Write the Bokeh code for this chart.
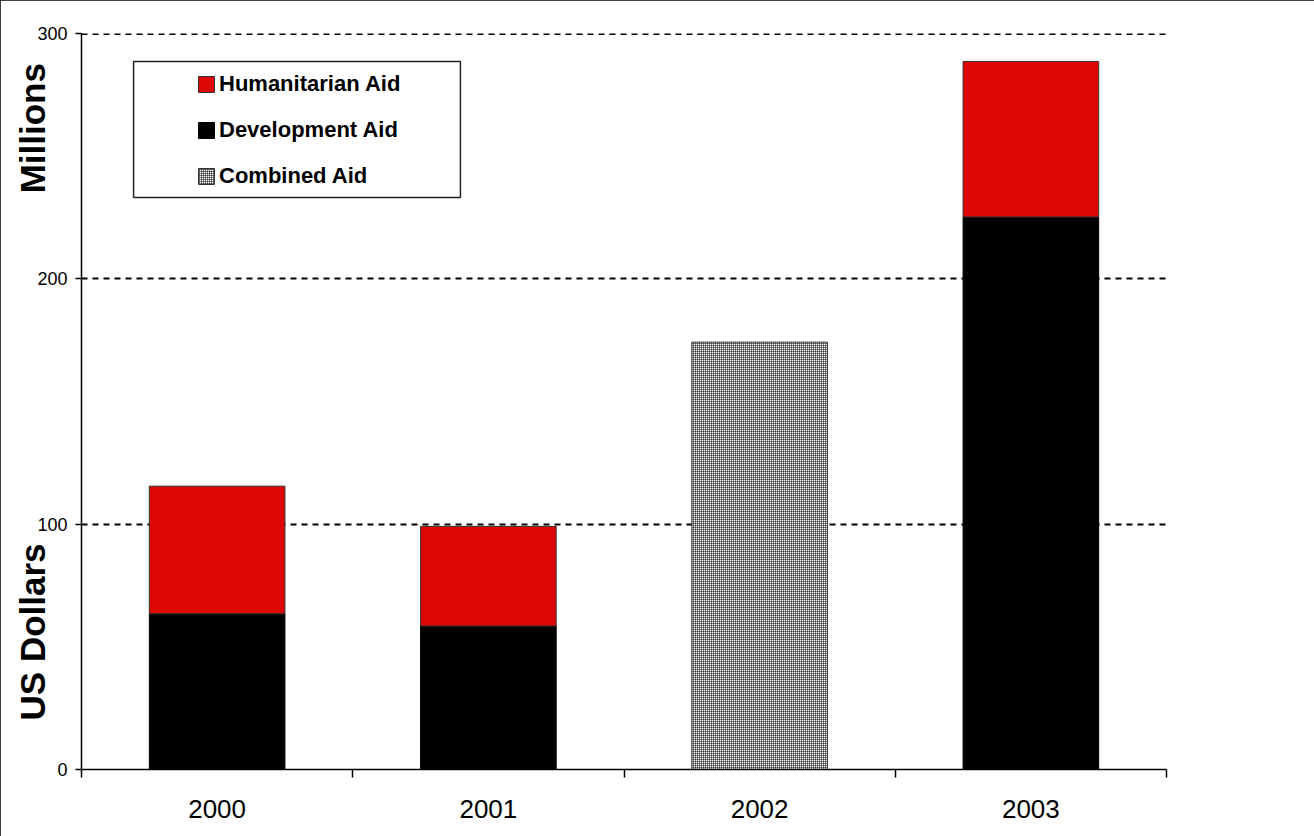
from bokeh.plotting import figure
from bokeh.models import (Range1d, FixedTicker, BoxAnnotation, Legend, LegendItem,
                          Span, LinearAxis)
from bokeh.embed import file_html
from bokeh.resources import INLINE

# ---- data ----
years = ["2000", "2001", "2002", "2003"]
development_aid = [63.5, 58.5, None, 225.2]
humanitarian_aid = [52.0, 40.6, None, 63.4]
combined_aid = [None, None, 174.2, None]
y_ticks = [0, 100, 200, 300]
y_max = 300
y_title_lower = "US Dollars"
y_title_upper = "Millions"

FONT = "Liberation Sans"
RED = "#DD0806"
NBSP = "\u00a0"

W, H = 1314, 836
LEFT_PX, RIGHT_PX, TOP_PX, BOTTOM_PX = 81, 148, 33, 67

p = figure(width=W, height=H, output_backend="svg", toolbar_location=None,
           x_range=Range1d(0, len(years)), y_range=Range1d(0, y_max),
           min_border_left=LEFT_PX, min_border_right=RIGHT_PX, min_border_top=TOP_PX,
           min_border_bottom=BOTTOM_PX, outline_line_color=None,
           background_fill_color="white", border_fill_color="white")
p.styles = {"outline": "3px solid black", "outline-offset": "-3px"}

# ---- bars ----
dev_x = [i + 0.5 for i, v in enumerate(development_aid) if v is not None]
dev_top = [v for v in development_aid if v is not None]
hum_x = [i + 0.5 for i, v in enumerate(humanitarian_aid) if v is not None]
hum_bottom = [d for d, h in zip(development_aid, humanitarian_aid) if h is not None]
hum_top = [d + h for d, h in zip(development_aid, humanitarian_aid) if h is not None]
com_x = [i + 0.5 for i, v in enumerate(combined_aid) if v is not None]
com_top = [v for v in combined_aid if v is not None]

r_dev = p.vbar(x=dev_x, bottom=0, top=dev_top, width=0.5,
               fill_color="black", line_color="black", line_width=1)
r_hum = p.vbar(x=hum_x, bottom=hum_bottom, top=hum_top, width=0.5,
               fill_color=RED, line_color="#333333", line_width=1)
r_com = p.vbar(x=com_x, bottom=0, top=com_top, width=0.5,
               fill_color="white", hatch_pattern="+", hatch_color="black",
               hatch_scale=2, hatch_weight=1, line_color="#333333", line_width=1)

# ---- x axis: labels at category centres, ticks at boundaries ----
centers = [i + 0.5 for i in range(len(years))]
p.xaxis.ticker = FixedTicker(ticks=centers, minor_ticks=list(range(len(years) + 1)))
p.xaxis.major_label_overrides = {c: y for c, y in zip(centers, years)}
p.xaxis.major_tick_out = 0
p.xaxis.major_tick_in = 0
p.xaxis.minor_tick_out = 8
p.xaxis.minor_tick_in = 0
p.xaxis.minor_tick_line_color = "black"
p.xaxis.minor_tick_line_width = 1.5
p.xaxis.major_label_standoff = 22
p.xaxis.major_label_text_font = FONT
p.xaxis.major_label_text_font_size = "26px"
p.xaxis.major_label_text_color = "black"
p.xaxis.axis_line_color = "black"
p.xaxis.axis_line_width = 1.5

# ---- y axis (ticks, numbers, axis line) ----
p.yaxis.ticker = FixedTicker(ticks=y_ticks, minor_ticks=[])
p.yaxis.major_tick_out = 6
p.yaxis.major_tick_in = 0
p.yaxis.major_tick_line_color = "black"
p.yaxis.major_tick_line_width = 1.5
p.yaxis.major_label_standoff = 8
p.yaxis.major_label_text_font = FONT
p.yaxis.major_label_text_font_size = "18px"
p.yaxis.major_label_text_color = "black"
p.yaxis.axis_line_color = "black"
p.yaxis.axis_line_width = 1.5

# ---- second, bare left axis carrying only the two-part title ----
title_axis = LinearAxis(ticker=FixedTicker(ticks=[]), axis_line_color=None,
                        major_tick_line_color=None, minor_tick_line_color=None,
                        major_label_text_font_size="0px",
                        axis_label=NBSP * 2 + y_title_lower + NBSP * 36 + y_title_upper,
                        axis_label_text_font=FONT, axis_label_text_font_size="35px",
                        axis_label_text_font_style="bold",
                        axis_label_text_color="black", axis_label_standoff=-17)
p.add_layout(title_axis, "left")

# ---- grid (dashed horizontal lines) ----
p.xgrid.visible = False
p.ygrid.ticker = FixedTicker(ticks=[t for t in y_ticks if 0 < t < y_max])
p.ygrid.grid_line_color = "black"
p.ygrid.grid_line_dash = "6 5"
p.ygrid.grid_line_width = 2
p.add_layout(Span(location=y_max, dimension="width", line_color="black",
                  line_dash="6 5", line_width=3, level="underlay"))

# ---- legend ----
box = BoxAnnotation(left=0.192, right=1.397, bottom=233.2, top=288.6,
                    fill_color="white", fill_alpha=1.0,
                    line_color="#222222", line_width=1.5, line_alpha=1.0)
p.add_layout(box)

legend = Legend(items=[LegendItem(label="Humanitarian Aid", renderers=[r_hum]),
                       LegendItem(label="Development Aid", renderers=[r_dev]),
                       LegendItem(label="Combined Aid", renderers=[r_com])],
                location=(115, 580), orientation="vertical",
                padding=0, margin=0,
                spacing=20, label_height=24, glyph_height=20, glyph_width=20,
                label_standoff=3, border_line_color=None, background_fill_alpha=0,
                label_text_font=FONT, label_text_font_size="22px",
                label_text_font_style="bold", label_text_color="black")
p.add_layout(legend)

open("out.html", "w").write(file_html(p, INLINE))
